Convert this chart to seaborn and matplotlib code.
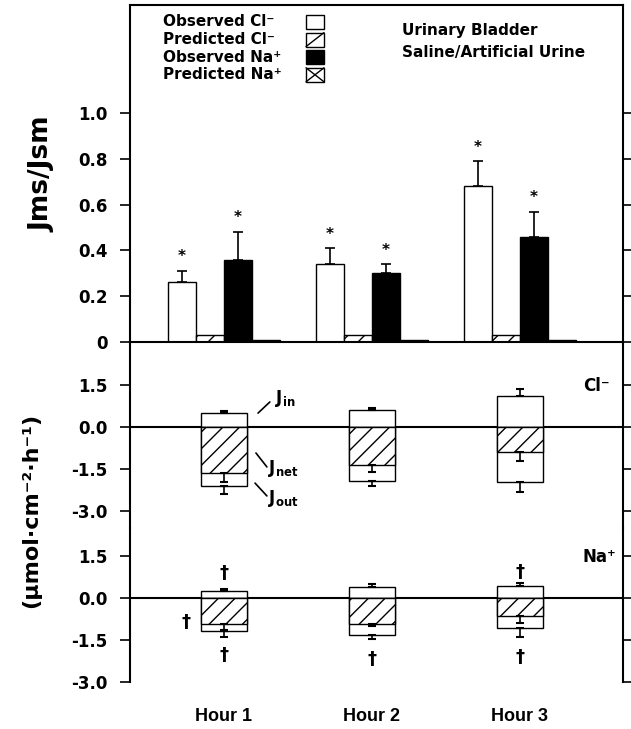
import numpy as np
import pandas as pd
import matplotlib
matplotlib.use("Agg")
import matplotlib.pyplot as plt
import seaborn as sns
from matplotlib.patches import Rectangle
from matplotlib.lines import Line2D

# ---------------- data ----------------
hours = ["Hour 1", "Hour 2", "Hour 3"]
series = ["Observed Cl⁻", "Predicted Cl⁻", "Observed Na⁺", "Predicted Na⁺"]

obs_cl = [0.26, 0.34, 0.68]
obs_cl_err = [0.05, 0.07, 0.11]
pred_cl = [0.03, 0.03, 0.03]
obs_na = [0.36, 0.30, 0.46]
obs_na_err = [0.12, 0.04, 0.11]
pred_na = [0.01, 0.01, 0.01]

cl_jin = [0.50, 0.61, 1.11]
cl_jin_err = [0.07, 0.06, 0.27]
cl_jnet = [-1.65, -1.36, -0.89]
cl_jnet_err = [0.31, 0.24, 0.31]
cl_jout = [-2.13, -1.95, -1.98]
cl_jout_err = [0.27, 0.18, 0.34]

na_jin = [0.27, 0.42, 0.45]
na_jin_err = [0.08, 0.08, 0.09]
na_jnet = [-0.93, -0.93, -0.63]
na_jnet_err = [0.20, 0.06, 0.24]
na_jout = [-1.16, -1.32, -1.08]
na_jout_err = [0.23, 0.14, 0.30]

top_ticks = [0, 0.2, 0.4, 0.6, 0.8, 1.0]
top_ticklabels = ["0", "0.2", "0.4", "0.6", "0.8", "1.0"]
flux_ticks = [-3.0, -1.5, 0.0, 1.5]
flux_ticklabels = ["-3.0", "-1.5", "0.0", "1.5"]

# ---------------- style ----------------
sns.set_style("ticks")
plt.rcParams["font.family"] = ["DejaVu Sans"]
plt.rcParams["font.weight"] = "bold"
plt.rcParams["mathtext.default"] = "bf"
plt.rcParams["hatch.linewidth"] = 1.0
plt.rcParams["axes.linewidth"] = 1.5
for key in ["text.color", "axes.labelcolor", "xtick.color", "ytick.color",
            "axes.edgecolor", "hatch.color"]:
    plt.rcParams[key] = "black"

W, H = 631, 729
fig = plt.figure(figsize=(W / 100, H / 100), dpi=100)


def fx(px):
    return px / W


def fy(py):
    return 1 - py / H


L, R = 130, 623
ax_top = fig.add_axes([fx(L), fy(342), fx(R) - fx(L), (342 - 5) / H])
ax_cl = fig.add_axes([fx(L), fy(528), fx(R) - fx(L), (528 - 342) / H])
ax_na = fig.add_axes([fx(L), fy(682), fx(R) - fx(L), (682 - 528) / H])

XLIM = (-0.635, 2.696)

# ---------------- top panel ----------------
top_df = pd.DataFrame({
    "hour": hours * 4,
    "series": np.repeat(series, 3),
    "value": obs_cl + pred_cl + obs_na + pred_na,
})
sns.barplot(data=top_df, x="hour", y="value", hue="series", hue_order=series,
            order=hours, palette=["white", "white", "black", "white"],
            edgecolor="black", linewidth=1.0, width=0.76, errorbar=None,
            saturation=1, legend=False, ax=ax_top)
for cont, h in zip(ax_top.containers, ["", "//", "", "xx"]):
    for p in cont:
        p.set_hatch(h)

for cont, vals, errs in [(ax_top.containers[0], obs_cl, obs_cl_err),
                         (ax_top.containers[2], obs_na, obs_na_err)]:
    xs = [p.get_x() + p.get_width() / 2 for p in cont]
    ax_top.errorbar(xs, vals, yerr=[np.zeros(len(vals)), errs], fmt="none",
                    ecolor="black", elinewidth=1.2, capsize=3.5, capthick=1.2)
    for x, v, e in zip(xs, vals, errs):
        ax_top.text(x, v + e + 0.042, "*", ha="center", va="baseline",
                    fontsize=11, fontweight="bold")

ax_top.set_ylim(0, 1.472)
ax_top.set_yticks(top_ticks)
ax_top.set_yticklabels(top_ticklabels)

# ---------------- flux panels ----------------
def flux_panel(ax, jin, jin_err, jnet, jnet_err, jout, jout_err):
    for vals, hatch in [(jin, ""), (jout, ""), (jnet, "//")]:
        sns.barplot(x=hours, y=vals, order=hours, color="white",
                    edgecolor="black", linewidth=1.0, width=0.31,
                    errorbar=None, saturation=1, ax=ax)
        for p in ax.containers[-1]:
            p.set_hatch(hatch)
    xs = [p.get_x() + p.get_width() / 2 for p in ax.containers[0]]
    z = np.zeros(len(xs))
    ax.errorbar(xs, jin, yerr=[z, jin_err], fmt="none", ecolor="black",
                elinewidth=1.2, capsize=2.8, capthick=1.5)
    ax.errorbar(xs, jnet, yerr=[jnet_err, z], fmt="none", ecolor="black",
                elinewidth=1.2, capsize=2.8, capthick=1.5)
    ax.errorbar(xs, jout, yerr=[jout_err, z], fmt="none", ecolor="black",
                elinewidth=1.2, capsize=2.8, capthick=1.5)
    ax.axhline(0, color="black", lw=1.5, zorder=0.5)
    ax.set_yticks(flux_ticks)
    ax.set_yticklabels(flux_ticklabels)


flux_panel(ax_cl, cl_jin, cl_jin_err, cl_jnet, cl_jnet_err, cl_jout, cl_jout_err)
flux_panel(ax_na, na_jin, na_jin_err, na_jnet, na_jnet_err, na_jout, na_jout_err)
ax_cl.set_ylim(-3.62, 3.05)
ax_na.set_ylim(-3.0, 2.52)

# ---------------- axes styling ----------------
for ax in (ax_top, ax_cl, ax_na):
    ax.set_xlim(*XLIM)
    ax.set_xlabel("")
    ax.set_ylabel("")
    ax.set_facecolor("none")
    ax.tick_params(axis="y", which="both", left=True, right=True,
                   direction="out", length=7, width=1.2, pad=9,
                   labelsize=12, colors="black")
    for lab in ax.get_yticklabels():
        lab.set_fontweight("bold")
    for side in ("left", "right"):
        ax.spines[side].set_visible(True)
        ax.spines[side].set_linewidth(1.5)
        ax.spines[side].set_color("black")

ax_top.spines["top"].set_visible(True)
ax_top.spines["top"].set_color("black")
ax_top.spines["bottom"].set_visible(True)
ax_top.spines["bottom"].set_linewidth(1.5)
ax_top.spines["bottom"].set_color("black")
for ax in (ax_cl, ax_na):
    ax.spines["top"].set_visible(False)
    ax.spines["bottom"].set_visible(False)
for ax in (ax_top, ax_cl):
    ax.tick_params(axis="x", bottom=False, labelbottom=False)

ax_na.set_xticks(range(len(hours)))
ax_na.set_xticklabels(hours, fontfamily="Liberation Sans", fontsize=13,
                      fontweight="bold", color="black")
ax_na.tick_params(axis="x", length=0, pad=19)

# ---------------- annotations ----------------
# J labels with leader lines on Cl panel
for txt, tx, ty, (x0, y0), (x1, y1) in [
    (r"$\mathbf{J}_{\mathbf{in}}$", 0.345, 0.87, (0.23, 0.50), (0.31, 0.90)),
    (r"$\mathbf{J}_{\mathbf{net}}$", 0.30, -1.65, (0.216, -0.93), (0.29, -1.43)),
    (r"$\mathbf{J}_{\mathbf{out}}$", 0.30, -2.72, (0.21, -2.01), (0.29, -2.47)),
]:
    ax_cl.text(tx, ty, txt, ha="left", va="baseline", fontsize=12,
               color="black")
    ax_cl.annotate("", xy=(x1, y1), xytext=(x0, y0),
                   arrowprops=dict(arrowstyle="-", lw=1.2, color="black",
                                   shrinkA=0, shrinkB=0))

# significance daggers on Na panel
for x, y in [(0, 0.90), (-0.26, -0.84), (0, -2.03), (1, -2.19), (2, 0.95), (2, -2.09)]:
    ax_na.text(x, y, "†", ha="center", va="center", fontsize=13,
               fontweight="bold", color="black")

fig.text(fx(583), fy(386), "Cl⁻", ha="left", va="center", fontsize=12,
         fontweight="bold")
fig.text(fx(583), fy(557), "Na⁺", ha="left", va="center", fontsize=12,
         fontweight="bold")

# legend (manual, text left aligned, boxes in a column)
legend_faces = ["white", "white", "black", "white"]
legend_diag = [[], ["/"], [], ["/", "\\"]]
bx0, bw, bh = 306, 18, 14
for i, (lab, fc, diags) in enumerate(zip(series, legend_faces, legend_diag)):
    yc = 22 + i * 17.6
    fig.text(fx(163), fy(yc), lab, ha="left", va="center", fontsize=11,
             fontweight="bold")
    top, bot = yc - bh / 2, yc + bh / 2
    fig.patches.append(Rectangle((fx(bx0), fy(bot)), bw / W, bh / H,
                                 transform=fig.transFigure, facecolor=fc,
                                 edgecolor="black", lw=1.0, figure=fig))
    for d in diags:
        ys = (fy(bot), fy(top)) if d == "/" else (fy(top), fy(bot))
        fig.lines.append(Line2D([fx(bx0), fx(bx0 + bw)], list(ys),
                                transform=fig.transFigure, color="black",
                                lw=1.0, figure=fig))

fig.text(fx(402), fy(30), "Urinary Bladder", ha="left", va="center",
         fontsize=11, fontweight="bold")
fig.text(fx(402), fy(53), "Saline/Artificial Urine", ha="left", va="center",
         fontsize=11, fontweight="bold")

# axis titles
fig.text(fx(42), fy(174), "Jms/Jsm", rotation=90, ha="center", va="center",
         fontsize=19, fontweight="bold")
fig.text(fx(31), fy(510), "(µmol·cm⁻²·h⁻¹)", rotation=90, ha="center",
         va="center", fontsize=16, fontweight="bold")

fig.savefig("out.png", dpi=100)
